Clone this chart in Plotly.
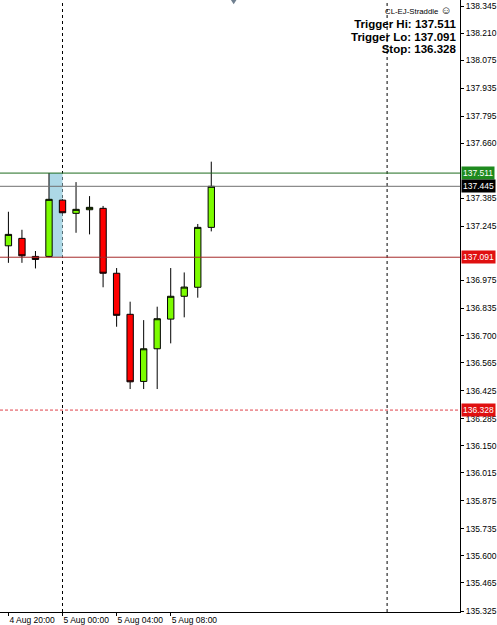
import plotly.graph_objects as go

# ---------------- data ----------------
times = [
    "2014-08-04 20:00", "2014-08-04 21:00", "2014-08-04 22:00", "2014-08-04 23:00",
    "2014-08-05 00:00", "2014-08-05 01:00", "2014-08-05 02:00", "2014-08-05 03:00",
    "2014-08-05 04:00", "2014-08-05 05:00", "2014-08-05 06:00", "2014-08-05 07:00",
    "2014-08-05 08:00", "2014-08-05 09:00", "2014-08-05 10:00", "2014-08-05 11:00",
]
opens = [137.148, 137.185, 137.095, 137.095, 137.376, 137.310, 137.328, 137.335,
         137.011, 136.806, 136.471, 136.634, 136.782, 136.896, 136.941, 137.240]
highs = [137.318, 137.228, 137.122, 137.511, 137.380, 137.466, 137.396, 137.347,
         137.037, 136.869, 136.777, 136.844, 137.037, 137.015, 137.257, 137.568]
lows = [137.063, 137.063, 137.035, 137.091, 137.311, 137.213, 137.205, 136.941,
        136.744, 136.433, 136.433, 136.433, 136.661, 136.791, 136.889, 137.220]
closes = [137.205, 137.098, 137.080, 137.380, 137.313, 137.330, 137.340, 137.011,
          136.801, 136.469, 136.634, 136.784, 136.896, 136.942, 137.240, 137.445]

y_ticks = [138.345, 138.210, 138.075, 137.935, 137.795, 137.660, 137.385,
           137.245, 136.975, 136.835, 136.700, 136.565, 136.425, 136.285,
           136.150, 136.015, 135.875, 135.735, 135.600, 135.465, 135.325]
x_tick_vals = ["2014-08-04 20:00", "2014-08-05 00:00", "2014-08-05 04:00", "2014-08-05 08:00"]
x_tick_text = ["4 Aug 20:00", "5 Aug 00:00", "5 Aug 04:00", "5 Aug 08:00"]
separators = ["2014-08-05 00:00", "2014-08-06 00:00"]

trigger_hi = 137.511
trigger_lo = 137.091
stop = 136.328
bid = 137.445
box_start = "2014-08-04 23:00"
box_end = "2014-08-05 00:00"
title_text = "CL-EJ-Straddle"

FONT = "Arial, Liberation Sans, sans-serif"

fig = go.Figure()

fig.add_trace(go.Candlestick(
    x=times, open=opens, high=highs, low=lows, close=closes,
    increasing=dict(fillcolor="#7CFC00", line=dict(color="#000000", width=1)),
    decreasing=dict(fillcolor="#FF0000", line=dict(color="#000000", width=1)),
    whiskerwidth=0, showlegend=False, hoverinfo="skip",
))

shapes = []
# trigger range box
shapes.append(dict(type="rect", xref="x", yref="y", x0=box_start, x1=box_end,
                   y0=trigger_lo, y1=trigger_hi, fillcolor="#ADD8E6",
                   line=dict(width=0), layer="below"))
# period separators
for s in separators:
    shapes.append(dict(type="line", xref="x", yref="paper", x0=s, x1=s, y0=0, y1=1,
                       line=dict(color="#000000", width=1, dash="3px,3px"), layer="below"))
# horizontal levels
shapes.append(dict(type="line", xref="paper", yref="y", x0=0, x1=1, y0=trigger_hi, y1=trigger_hi,
                   line=dict(color="#1E6B1E", width=1)))
shapes.append(dict(type="line", xref="paper", yref="y", x0=0, x1=1, y0=bid, y1=bid,
                   line=dict(color="#707070", width=1)))
shapes.append(dict(type="line", xref="paper", yref="y", x0=0, x1=1, y0=trigger_lo, y1=trigger_lo,
                   line=dict(color="#A52A2A", width=1)))
shapes.append(dict(type="line", xref="paper", yref="y", x0=0, x1=1, y0=stop, y1=stop,
                   line=dict(color="#E0404A", width=1, dash="3px,2px")))
# shift marker at top
shapes.append(dict(type="path", xref="paper", yref="paper",
                   path="M 0.502,1 L 0.514,1 L 0.508,0.993 Z",
                   fillcolor="#708090", line=dict(width=0)))

annotations = []
for val, bg in [(trigger_hi, "#1E8A1E"), (bid, "#000000"), (trigger_lo, "#E01010"), (stop, "#E01010")]:
    annotations.append(dict(xref="paper", yref="y", x=1, y=val, xanchor="left", yanchor="middle",
                            xshift=1, text=f"{val:.3f}", showarrow=False, bgcolor=bg,
                            borderpad=1, font=dict(family=FONT, size=8.5, color="#FFFFFF")))

annotations.append(dict(xref="paper", yref="paper", x=1, y=1, xanchor="right", yanchor="top",
                        xshift=-6, yshift=-2,
                        text=title_text + " <span style='font-size:11px'>☺</span>",
                        showarrow=False,
                        font=dict(family=FONT, size=7.8, color="#000000")))

info_lines = [f"Trigger Hi: {trigger_hi:.3f}", f"Trigger Lo: {trigger_lo:.3f}", f"Stop: {stop:.3f}"]
info_text = "<br>".join(f"<span style='font-size:11.5px'><b>{t}</b></span>" for t in info_lines)
annotations.append(dict(xref="paper", yref="paper", x=1, y=1, xanchor="right", yanchor="top",
                        xshift=-3, yshift=-17, align="right", text=info_text, showarrow=False,
                        borderpad=0, font=dict(family=FONT, size=9.7, color="#000000")))

fig.update_layout(
    width=497, height=625,
    margin=dict(l=0, r=32, t=0, b=13),
    paper_bgcolor="#FFFFFF", plot_bgcolor="#FFFFFF",
    boxgap=0.33,
    shapes=shapes, annotations=annotations,
    font=dict(family=FONT, size=8.5, color="#000000"),
    xaxis=dict(
        type="date", range=["2014-08-04 19:22:40", "2014-08-06 05:23:24"],
        rangeslider=dict(visible=False),
        tickvals=x_tick_vals, ticktext=x_tick_text, tickangle=0,
        ticks="outside", ticklen=3, tickcolor="#000000",
        ticklabelposition="outside right",
        showgrid=False, zeroline=False, showline=True, linecolor="#000000", linewidth=1,
        tickfont=dict(family=FONT, size=8.5, color="#000000"),
    ),
    yaxis=dict(
        side="right", range=[135.320, 138.375],
        tickvals=y_ticks, ticktext=[f"{v:.3f}" for v in y_ticks],
        ticks="outside", ticklen=3, tickcolor="#000000",
        showgrid=False, zeroline=False, showline=True, linecolor="#000000", linewidth=1,
        tickfont=dict(family=FONT, size=8.5, color="#000000"),
    ),
)

fig.write_html("out.html")
